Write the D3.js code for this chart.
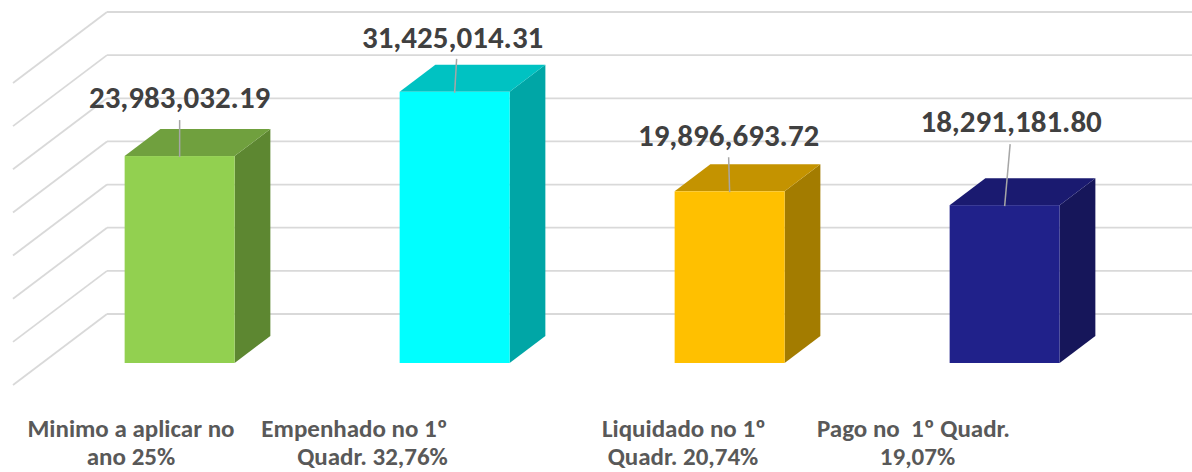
<!DOCTYPE html>
<html>
<head>
<meta charset="utf-8">
<script src="https://cdn.jsdelivr.net/npm/d3@7"></script>
<style>
  body { margin: 0; background: #fff; }
  svg { display: block; }
  .grid { stroke: #d9d9d9; stroke-width: 1.8; fill: none; }
  .value { font-family: Calibri, Carlito, Lato, sans-serif; font-weight: 700; fill: #404040; }
  .cat { font-family: Calibri, Carlito, Lato, sans-serif; font-weight: 700; fill: #595959; }
  .leader { stroke: #a6a6a6; stroke-width: 1.5; }
</style>
</head>
<body>
<svg></svg>
<script>
// dados
const categories = [
  'Minimo a aplicar no ano 25%',
  'Empenhado no 1º Quadr. 32,76%',
  'Liquidado no 1º Quadr. 20,74%',
  'Pago no  1º Quadr. 19,07%'
];
const catLines = [
  ['Minimo a aplicar no', 'ano 25%'],
  ['Empenhado no 1º', 'Quadr. 32,76%'],
  ['Liquidado no 1º', 'Quadr. 20,74%'],
  ['Pago no  1º Quadr.', '19,07%']
];
const values = [23983032.19, 31425014.31, 19896693.72, 18291181.80];
const ticks = [0, 5e6, 10e6, 15e6, 20e6, 25e6, 30e6, 35e6];

// cores: frente, topo, lado
const colors = [
  ['#92d050', '#70a03e', '#5d8731'],
  ['#00ffff', '#00c2c2', '#00a6a6'],
  ['#ffc000', '#c49300', '#a37c00'],
  ['#20218a', '#1a1a70', '#16165a']
];

// posição dos rótulos (ajuste manual como no original)
const valueShift = [[0, -48], [-2, -44], [-1, -45], [6.5, -73]];
const leaderTop = [[0, 12], [4, 11], [0, 11], [-1, 12]];
const catShift = [[-19.5, -19.5], [-71, -53], [-16.5, -17.5], [-62, -58]];

const width = 1192, height = 472;
const svg = d3.select('svg').attr('width', width).attr('height', height);

// projeção oblíqua: profundidade total do piso
const depthX = 94, depthY = -71;
const floorLeft = 13, floorRight = 1113, floorFront = 385;
const dFront = 0.31, dBack = 0.69;

const x = d3.scaleBand()
  .domain(categories)
  .range([floorLeft, floorRight])
  .paddingInner(0.6)
  .paddingOuter(0.3);

const y = d3.scaleLinear()
  .domain([0, 35e6])
  .range([floorFront, floorFront - 302]);

// linhas de grade: parede lateral e parede do fundo
svg.selectAll('.gside')
  .data(ticks)
  .enter()
  .append('line')
  .attr('class', 'grid')
  .attr('x1', floorLeft)
  .attr('y1', d => y(d))
  .attr('x2', floorLeft + depthX)
  .attr('y2', d => y(d) + depthY);

svg.selectAll('.gback')
  .data(ticks)
  .enter()
  .append('line')
  .attr('class', 'grid')
  .attr('x1', floorLeft + depthX)
  .attr('y1', d => y(d) + depthY)
  .attr('x2', width)
  .attr('y2', d => y(d) + depthY);

// barras 3D
const fx = dFront * depthX, fy = dFront * depthY;
const bx = dBack * depthX, by = dBack * depthY;
const bw = x.bandwidth();

const bars = svg.selectAll('.bar')
  .data(values)
  .enter()
  .append('g')
  .attr('class', 'bar');

bars.each(function (v, i) {
  const g = d3.select(this);
  const x0 = x(categories[i]) + fx;
  const yt = y(v) + fy;
  const yb = y(0) + fy;
  const ox = bx - fx, oy = by - fy;

  g.append('polygon')
    .attr('points', [[x0 + bw, yt], [x0 + bw + ox, yt + oy], [x0 + bw + ox, yb + oy], [x0 + bw, yb]].join(' '))
    .attr('fill', colors[i][2]);

  g.append('polygon')
    .attr('points', [[x0, yt], [x0 + bw, yt], [x0 + bw + ox, yt + oy], [x0 + ox, yt + oy]].join(' '))
    .attr('fill', colors[i][1]);

  g.append('rect')
    .attr('x', x0)
    .attr('y', yt)
    .attr('width', bw)
    .attr('height', yb - yt)
    .attr('fill', colors[i][0]);

  // rótulo do valor com linha guia
  const cx = x0 + bw / 2;
  const lx = cx + valueShift[i][0];
  const ly = yt + valueShift[i][1];

  svg.append('line')
    .attr('class', 'leader')
    .attr('x1', lx + leaderTop[i][0])
    .attr('y1', ly + leaderTop[i][1])
    .attr('x2', cx)
    .attr('y2', yt + 1);

  svg.append('text')
    .attr('class', 'value')
    .attr('x', lx)
    .attr('y', ly)
    .attr('text-anchor', 'middle')
    .attr('font-size', 31)
    .text(d3.format(',.2f')(v));
});

// rótulos das categorias
categories.forEach((c, i) => {
  const cx = x(c) + bw / 2;
  catLines[i].forEach((line, j) => {
    svg.append('text')
      .attr('class', 'cat')
      .attr('x', cx + catShift[i][j])
      .attr('y', 437 + j * 28)
      .attr('text-anchor', 'middle')
      .attr('font-size', 25)
      .style('white-space', 'pre')
      .text(line);
  });
});
</script>
</body>
</html>
